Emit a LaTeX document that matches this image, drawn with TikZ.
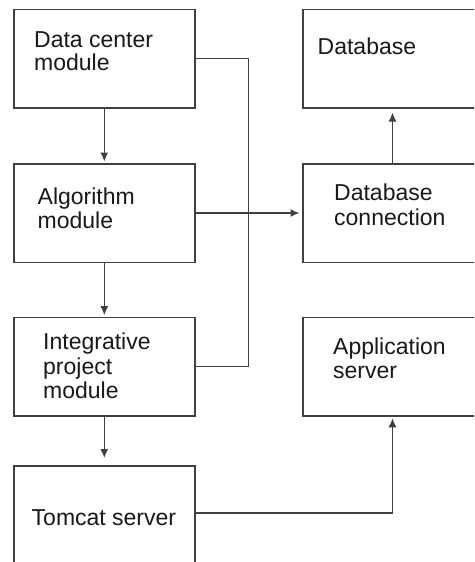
\documentclass[tikz,border=0pt]{standalone}
\usepackage{fontspec}
\setmainfont{Liberation Sans}
\usetikzlibrary{arrows.meta,calc}
\begin{document}
\begin{tikzpicture}[x=1pt,y=-1pt,
  box/.style={draw=black!75,line width=1.6pt,minimum width=181pt,minimum height=98.5pt,inner sep=0pt,anchor=north west},
  rbox/.style={box,minimum width=179.4pt},
  txt/.style={anchor=base west,inner sep=0pt,font=\fontsize{23}{24}\selectfont,text=black!90},
  conn/.style={draw=black!75,line width=1.3pt},
  arr/.style={conn,-{Latex[length=9pt,width=8pt]},shorten >=1.5pt}]
\useasboundingbox (0,0) rectangle (474,562);
\clip (0,0) rectangle (474,562);
\fill[white] (0,0) rectangle (474,562);
% left boxes
\node[box] (dc) at (13,8.5) {};
\node[box] (al) at (13,163) {};
\node[box] (ip) at (13,316.7) {};
\node[box,minimum height=100pt] (tc) at (13,465) {};
% right boxes
\node[rbox] (db) at (302,8.5) {};
\node[rbox] (dbc) at (302,163) {};
\node[rbox] (as) at (302,316.7) {};
% texts
\node[txt] (dc1) at (34,47) {Data center};
\node[txt] (dc2) at (34,70) {module};
\node[txt] (al1) at (37.5,204) {Algorithm};
\node[txt] (al2) at (37.5,228.5) {module};
\node[txt] (ip1) at (43,349.5) {Integrative};
\node[txt] (ip2) at (43,374) {project};
\node[txt] (ip3) at (43,398) {module};
\node[txt] (tc1) at (31.5,525) {Tomcat server};
\node[txt] (db1) at (317.5,54.5) {Database};
\node[txt] (dbc1) at (334,200) {Database};
\node[txt] (dbc2) at (334,225) {connection};
\node[txt] (as1) at (333,354) {Application};
\node[txt] (as2) at (333,378.5) {server};
% connectors
\draw[arr] (dc.south) -- (al.north);
\draw[arr] (al.south) -- (ip.north);
\draw[arr,shorten >=7pt] (ip.south) -- (tc.north);
\draw[arr,shorten >=2.5pt] (al.east) -- (dbc.west);
\draw[arr,shorten >=4pt] (dbc.north) -- (db.south);
\draw[conn] (dc.east) -- ++(53,0) |- (ip.east);
\draw[arr] ([yshift=-48pt]tc.north east) -| (as.south);
\end{tikzpicture}
\end{document}
